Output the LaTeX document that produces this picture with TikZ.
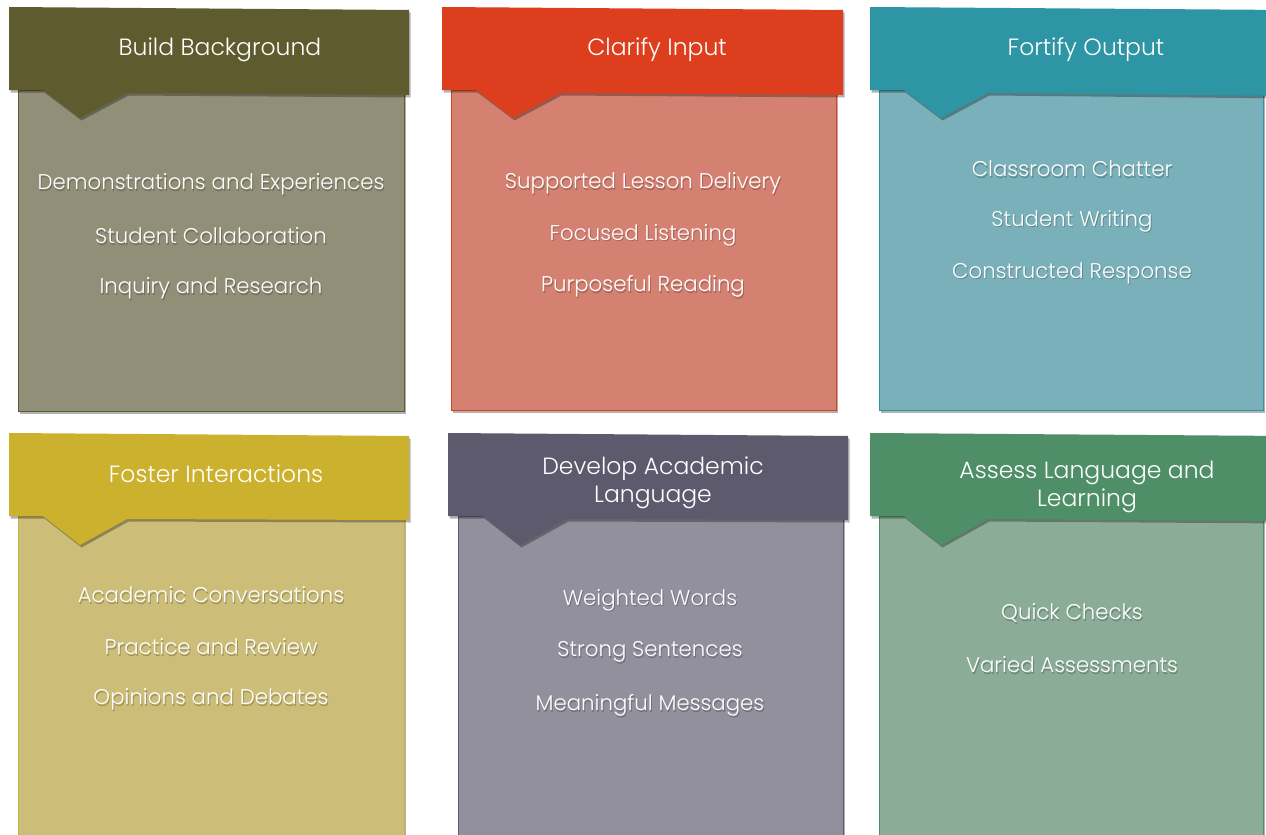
\documentclass[tikz,border=0pt]{standalone}
\usepackage{fontspec}
\setmainfont{Poppins Light}
\usetikzlibrary{shadows}
\definecolor{bbH}{HTML}{5E5B2E}
\definecolor{bbB}{HTML}{928F78}
\definecolor{ciH}{HTML}{DD3E1E}
\definecolor{ciB}{HTML}{D58172}
\definecolor{foH}{HTML}{2D95A3}
\definecolor{foB}{HTML}{7AB0B9}
\definecolor{fiH}{HTML}{CBB12E}
\definecolor{fiB}{HTML}{CCBD78}
\definecolor{daH}{HTML}{5E5A6E}
\definecolor{daB}{HTML}{92909D}
\definecolor{alH}{HTML}{4E8F68}
\definecolor{alB}{HTML}{8BAD98}
\begin{document}
\begin{tikzpicture}[x=1pt,y=-1pt,
  shd/.style={drop shadow={shadow xshift=1.5pt,shadow yshift=-2.5pt,opacity=0.3,fill=black}},
  bodybox/.style={line width=0.8pt,shd},
  hdrbox/.style={draw=none,shd},
  hdr/.style={text=white,font=\fontsize{23.5}{28}\selectfont,align=center,inner sep=0pt},
  itm/.style={text=white,font=\fontsize{21.3}{24}\selectfont,inner sep=0pt},
  itms/.style={text=black,opacity=0.22,font=\fontsize{21.3}{24}\selectfont,inner sep=0pt}]
\useasboundingbox (0,0) rectangle (1266,835);
\fill[white] (0,0) rectangle (1266,835);
\begin{scope}
\clip (0,0) rectangle (1266,835);
% ---------- bodies ----------
\filldraw[bodybox,fill=bbB,draw=bbH] (18,90) rectangle (404,411);
\filldraw[bodybox,fill=ciB,draw=ciH] (451,90) rectangle (836,410);
\filldraw[bodybox,fill=foB,draw=foH] (879,90) rectangle (1263,410);
\filldraw[bodybox,fill=fiB,draw=fiH] (18,516) rectangle (404,850);
\filldraw[bodybox,fill=daB,draw=daH] (458,516) rectangle (843,850);
\filldraw[bodybox,fill=alB,draw=alH] (879,516) rectangle (1263,850);
% ---------- headers ----------
\fill[hdrbox,bbH] (9,7) -- (409,10) -- (409,95) -- (127,93) -- (80,118) -- (43,90) -- (9,90) -- cycle;
\fill[hdrbox,ciH] (442,7) -- (843,10) -- (843,95) -- (560,93) -- (513,118) -- (476,90) -- (442,90) -- cycle;
\fill[hdrbox,foH] (870,7) -- (1290,10) -- (1290,96) -- (988,93) -- (941,118) -- (904,90) -- (870,90) -- cycle;
\fill[hdrbox,fiH] (9,433) -- (409,436) -- (409,520) -- (127,519) -- (80,545) -- (43,516) -- (9,516) -- cycle;
\fill[hdrbox,daH] (448,433) -- (848,436) -- (848,520) -- (567,519) -- (520,545) -- (483,516) -- (448,516) -- cycle;
\fill[hdrbox,alH] (870,433) -- (1290,436) -- (1290,521) -- (988,519) -- (941,545) -- (904,516) -- (870,516) -- cycle;
\end{scope}
% ---------- header texts ----------
\node[hdr] (h1) at (220,50) {Build Background};
\node[hdr] (h2) at (657,50) {Clarify Input};
\node[hdr] (h3) at (1086,50) {Fortify Output};
\node[hdr] (h4) at (216,474) {Foster Interactions};
\node[hdr] (h5) at (653,483) {Develop Academic\\Language};
\node[hdr] (h6) at (1087,487) {Assess Language and\\Learning};
% ---------- items ----------
\foreach \n/\x/\y/\t in {a1/211/184/Demonstrations and Experiences, a2/211/236/Student Collaboration, a3/211/288/Inquiry and Research,
  b1/643/183/Supported Lesson Delivery, b2/643/235/Focused Listening, b3/643/286/Purposeful Reading,
  c1/1072/169/Classroom Chatter, c2/1072/221/Student Writing, c3/1072/273/Constructed Response,
  d1/211/595/Academic Conversations, d2/211/647/Practice and Review, d3/211/699/Opinions and Debates,
  e1/650/600/Weighted Words, e2/650/652/Strong Sentences, e3/650/705/Meaningful Messages,
  f1/1072/613/Quick Checks, f2/1072/665/Varied Assessments}
{
  \node[itms] (\n s) at (\x+1,\y+1.8) {\t};
  \node[itm] (\n) at (\x,\y) {\t};
}
\end{tikzpicture}
\end{document}
